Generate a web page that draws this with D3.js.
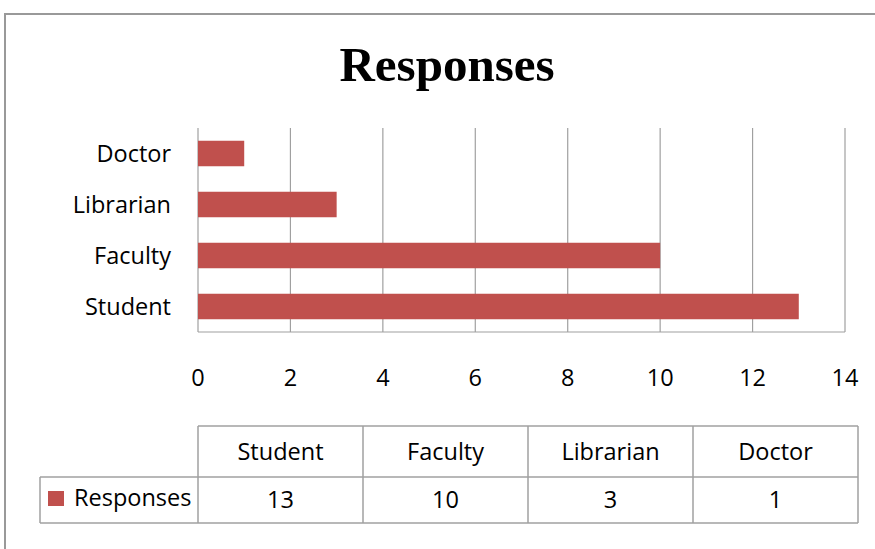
<!DOCTYPE html>
<html>
<head>
<meta charset="utf-8">
<script src="https://cdn.jsdelivr.net/npm/d3@7"></script>
<style>
  body { margin: 0; background: #fff; }
  svg text { font-family: 'Open Sans', 'Noto Sans', sans-serif; fill: #000; }
</style>
</head>
<body>
<svg id="chart" width="875" height="549"></svg>
<script>
const categories = ['Student', 'Faculty', 'Librarian', 'Doctor']
const responses = [13, 10, 3, 1]
const xTicks = [0, 2, 4, 6, 8, 10, 12, 14]
const seriesName = 'Responses'

const barColor = '#c0504d'
const gridColor = '#a0a0a0'
const fontSize = '23.5px'

const svg = d3.select('#chart')

// outer frame
svg.append('rect')
  .attr('x', 5).attr('y', 14)
  .attr('width', 880).attr('height', 560)
  .attr('fill', 'none').attr('stroke', '#999').attr('stroke-width', 2)

svg.append('text')
  .attr('x', 447).attr('y', 81)
  .attr('text-anchor', 'middle')
  .style('font-family', "'Liberation Serif', 'DejaVu Serif', serif")
  .style('font-weight', 'bold')
  .style('font-size', '49px')
  .text('Responses')

const plot = { left: 198, right: 845, top: 128, bottom: 332 }

const x = d3.scaleLinear().domain([0, 14]).range([plot.left, plot.right])
const y = d3.scaleBand()
  .domain(categories.slice().reverse())
  .range([plot.top, plot.bottom])
  .paddingInner(0.5).paddingOuter(0.25)

// gridlines
svg.append('g').selectAll('line')
  .data(xTicks)
  .join('line')
  .attr('x1', d => x(d)).attr('x2', d => x(d))
  .attr('y1', plot.top).attr('y2', plot.bottom)
  .attr('stroke', gridColor).attr('stroke-width', 1.2)

svg.append('line')
  .attr('x1', plot.left).attr('x2', plot.right)
  .attr('y1', plot.bottom).attr('y2', plot.bottom)
  .attr('stroke', gridColor).attr('stroke-width', 1.2)

// bars
svg.append('g').selectAll('rect')
  .data(categories)
  .join('rect')
  .attr('x', x(0))
  .attr('y', d => y(d))
  .attr('width', (d, i) => x(responses[i]) - x(0))
  .attr('height', y.bandwidth())
  .attr('fill', barColor)

// category labels
svg.append('g').selectAll('text')
  .data(categories)
  .join('text')
  .attr('x', 171)
  .attr('y', d => y(d) + y.bandwidth() / 2)
  .attr('dy', '0.35em')
  .attr('text-anchor', 'end')
  .style('font-size', fontSize)
  .text(d => d)

// x tick labels
svg.append('g').selectAll('text')
  .data(xTicks)
  .join('text')
  .attr('x', d => x(d))
  .attr('y', 378)
  .attr('dy', '0.35em')
  .attr('text-anchor', 'middle')
  .style('font-size', fontSize)
  .text(d => d)

// data table
const tbl = { left: 40, colStart: 198, right: 858, top: 426, mid: 477, bottom: 523 }
const col = d3.scaleBand().domain(categories).range([tbl.colStart, tbl.right])
const tg = svg.append('g')
const lineStyle = sel => sel.attr('stroke', gridColor).attr('stroke-width', 1.5)

tg.append('line').attr('x1', tbl.colStart).attr('x2', tbl.right).attr('y1', tbl.top).attr('y2', tbl.top).call(lineStyle)
tg.append('line').attr('x1', tbl.left).attr('x2', tbl.right).attr('y1', tbl.mid).attr('y2', tbl.mid).call(lineStyle)
tg.append('line').attr('x1', tbl.left).attr('x2', tbl.right).attr('y1', tbl.bottom).attr('y2', tbl.bottom).call(lineStyle)
tg.append('line').attr('x1', tbl.left).attr('x2', tbl.left).attr('y1', tbl.mid).attr('y2', tbl.bottom).call(lineStyle)
tg.selectAll('.vline')
  .data(categories.map(c => col(c)).concat([tbl.right]))
  .join('line')
  .attr('class', 'vline')
  .attr('x1', d => d).attr('x2', d => d)
  .attr('y1', tbl.top).attr('y2', tbl.bottom)
  .call(lineStyle)

tg.selectAll('.hdr')
  .data(categories)
  .join('text')
  .attr('class', 'hdr')
  .attr('x', d => col(d) + col.bandwidth() / 2)
  .attr('y', (tbl.top + tbl.mid) / 2)
  .attr('dy', '0.35em')
  .attr('text-anchor', 'middle')
  .style('font-size', fontSize)
  .text(d => d)

tg.selectAll('.val')
  .data(categories)
  .join('text')
  .attr('class', 'val')
  .attr('x', d => col(d) + col.bandwidth() / 2)
  .attr('y', (tbl.mid + tbl.bottom) / 2)
  .attr('dy', '0.35em')
  .attr('text-anchor', 'middle')
  .style('font-size', fontSize)
  .text((d, i) => responses[i])

tg.append('rect')
  .attr('x', 48).attr('y', 491)
  .attr('width', 16).attr('height', 15)
  .attr('fill', barColor)

tg.append('text')
  .attr('x', 74)
  .attr('y', (tbl.mid + tbl.bottom) / 2 - 2)
  .attr('dy', '0.35em')
  .style('font-size', fontSize)
  .text(seriesName)
</script>
</body>
</html>
